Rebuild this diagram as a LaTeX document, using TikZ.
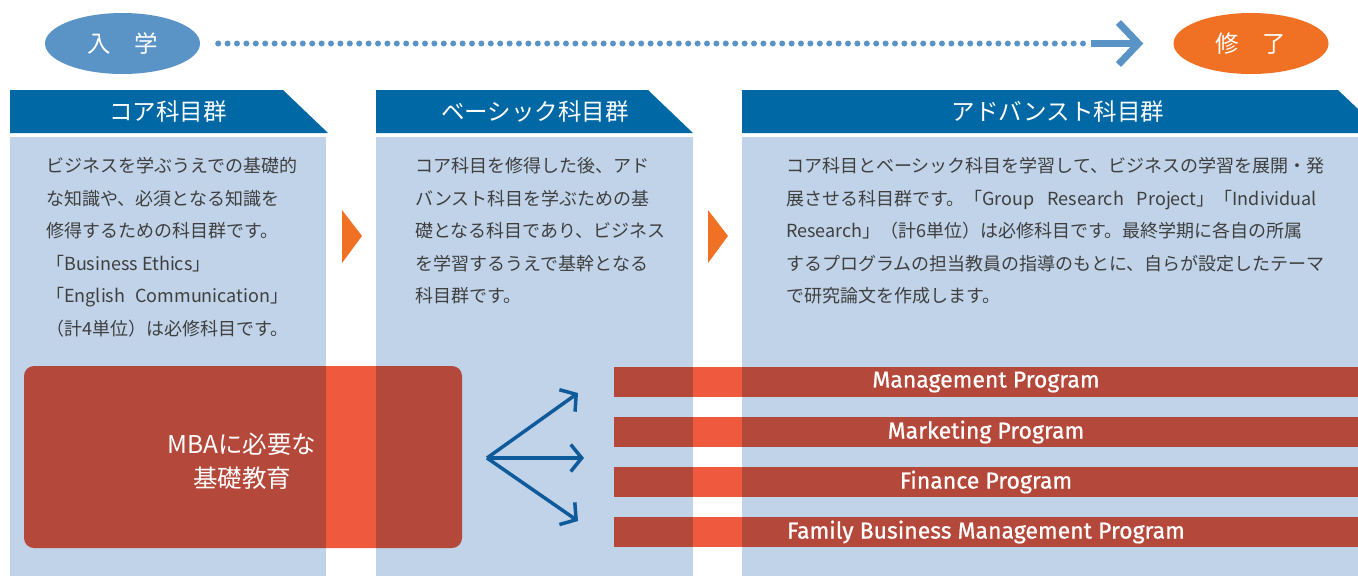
\documentclass[tikz,border=0pt]{standalone}
\usepackage{fontspec}
\setmainfont{Noto Sans CJK JP}
\newfontfamily\progfont[FakeBold=0.8]{Fira Sans}
\usetikzlibrary{arrows.meta,shapes.geometric}
\definecolor{hdr}{HTML}{0068A5}
\definecolor{panel}{HTML}{C0D3E8}
\definecolor{bodytext}{HTML}{3F3F3F}
\definecolor{redbox}{HTML}{B4483A}
\definecolor{redlight}{HTML}{EF5A3F}
\definecolor{startblue}{HTML}{5A93C5}
\definecolor{orangec}{HTML}{F07124}
\definecolor{forkblue}{HTML}{0F5A9B}
\tikzset{
  oval/.style={ellipse, inner sep=0pt, minimum width=155pt, minimum height=61pt, text=white, font=\fontsize{23.5}{23.5}\selectfont},
  hdrtext/.style={text=white, font=\fontsize{23.5}{23.5}\selectfont, inner sep=0pt},
  body/.style={text=bodytext, font=\fontsize{18}{18}\selectfont, inner sep=0pt, anchor=base west},
  progbar/.style={fill=redbox, minimum width=744pt, minimum height=30pt, inner sep=0pt, text=white, font=\progfont\fontsize{23}{23}\selectfont},
  dotline/.style={startblue, line width=6pt, line cap=round, dash pattern=on 0pt off 9.4pt},
  mainarrow/.style={startblue, line width=7pt, -{Straight Barb[length=20pt,width=42pt]}},
  forkarrow/.style={forkblue, line width=3.5pt, -{Straight Barb[length=11pt,width=27pt]}},
  tri/.style={fill=orangec}
}
\begin{document}
\begin{tikzpicture}[x=1pt,y=-1pt]
\useasboundingbox (0,0) rectangle (1358,576);
\fill[white] (0,0) rectangle (1358,576);
% panels
\fill[panel] (10,137) rectangle (326,576);
\fill[panel] (376,137) rectangle (693,576);
\fill[panel] (742,137) rectangle (1358,576);
% headers
\fill[hdr] (10,90) -- (283,90) -- (328,133) -- (10,133) -- cycle;
\fill[hdr] (376,90) -- (648,90) -- (693,133) -- (376,133) -- cycle;
\fill[hdr] (742,90) -- (1338,90) -- (1358,109) -- (1358,133) -- (742,133) -- cycle;
\node[hdrtext] (h1) at (168,112) {コア科目群};
\node[hdrtext] (h2) at (535,112) {ベーシック科目群};
\node[hdrtext] (h3) at (1058,112) {アドバンスト科目群};
% timeline
\node[oval, fill=startblue] (start) at (122.5,43.5) {入　学};
\node[oval, fill=orangec] (finish) at (1251,43.5) {修　了};
\draw[dotline] ([xshift=18pt]start.east) -- ([xshift=-84pt]finish.west);
\draw[mainarrow] ([xshift=-82pt]finish.west) -- ([xshift=-30pt]finish.west);
% orange triangles
\fill[tri] (342,210) -- (362,236) -- (342,263) -- cycle;
\fill[tri] (708,210) -- (728,236) -- (708,263) -- cycle;
% body texts
\foreach \t [count=\i] in {ビジネスを学ぶうえでの基礎的,な知識や、必須となる知識を,修得するための科目群です。,「Business Ethics」,{「English\hspace{10pt}Communication」},（計4単位）は必修科目です。}
  \node[body] (ca\i) at (46,{172.5+32.5*(\i-1)}) {\t};
\foreach \t [count=\i] in {コア科目を修得した後、アド,バンスト科目を学ぶための基,礎となる科目であり、ビジネス,を学習するうえで基幹となる,科目群です。}
  \node[body] (cb\i) at (415,{172.5+32.5*(\i-1)}) {\t};
\foreach \t [count=\i] in {コア科目とベーシック科目を学習して、ビジネスの学習を展開・発,{展させる科目群です。「Group\hspace{13pt}Research\hspace{13pt}Project」「Individual},Research」（計6単位）は必修科目です。最終学期に各自の所属,するプログラムの担当教員の指導のもとに、自らが設定したテーマ,で研究論文を作成します。}
  \node[body] (cc\i) at (786,{172.5+32.5*(\i-1)}) {\t};
% red box
\fill[redbox, rounded corners=10pt] (24,366) rectangle (462,548);
\fill[redlight] (326,366) rectangle (376,548);
\node[text=white, align=center, font=\fontsize{24.5}{34}\selectfont, inner sep=0pt] (mba) at (242,461) {MBAに必要な\\基礎教育};
% program bars
\node[progbar] (p1) at (986,382) {Management Program};
\node[progbar] (p2) at (986,432) {Marketing Program};
\node[progbar] (p3) at (986,482) {Finance Program};
\node[progbar] (p4) at (986,532) {Family Business Management Program};
\foreach \y in {367,417,467,517}
  \fill[redlight] (693,\y) rectangle (742,\y+30);
% fork arrows
\coordinate (fork) at (487,458);
\coordinate (t1) at (578,393);
\coordinate (t2) at (584,458);
\coordinate (t3) at (578,521);
\draw[forkarrow] (fork) -- (t1);
\draw[forkarrow] (fork) -- (t2);
\draw[forkarrow] (fork) -- (t3);
\end{tikzpicture}
\end{document}
